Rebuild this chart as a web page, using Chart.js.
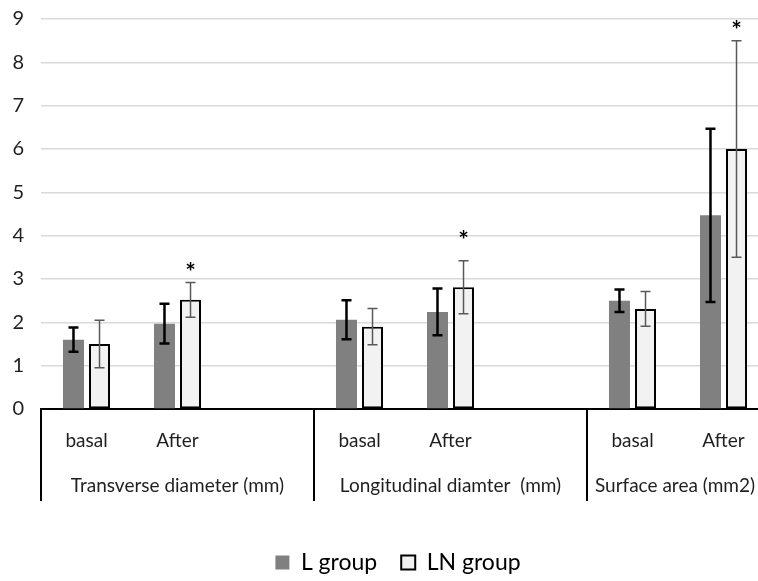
<!DOCTYPE html>
<html><head><meta charset="utf-8">
<script src="https://cdn.jsdelivr.net/npm/chart.js@4.4.1/dist/chart.umd.min.js"></script>
<style>html,body{margin:0;padding:0;background:#fff;overflow:hidden}#wrap{width:758px;height:581px;position:relative;overflow:hidden}</style>
</head><body><div id="wrap"><canvas id="c" width="860" height="581"></canvas></div>
<script>
const groups = ['Transverse diameter (mm)', 'Longitudinal diamter  (mm)', 'Surface area (mm2)'];
const categories = ['basal', 'After', '', 'basal', 'After', '', 'basal', 'After', ''];
const lGroup = [1.6, 1.97, null, 2.06, 2.24, null, 2.5, 4.47, null];
const lGroupErr = [0.28, 0.46, null, 0.45, 0.54, null, 0.26, 2.0, null];
const lnGroup = [1.5, 2.52, null, 1.9, 2.81, null, 2.31, 6.0, null];
const lnGroupErr = [0.55, 0.4, null, 0.42, 0.61, null, 0.4, 2.5, null];
const significance = ['', '*', '', '', '*', '', '', '*', ''];
const sigLevel = [null, 3.27, null, null, 4.02, null, null, 8.87, null];
const yTicks = [0, 1, 2, 3, 4, 5, 6, 7, 8, 9];

const FONT = 'Lato, "Open Sans", sans-serif';
const VISIBLE_W = 758;
Chart.defaults.font.family = FONT;

const extras = {
  id: 'extras',
  afterLayout(chart) {
    const lg = chart.legend;
    if (lg) { lg.left -= 32; lg.right -= 32; lg.top += 3; lg.bottom += 3; }
  },
  afterDatasetsDraw(chart) {
    const ctx = chart.ctx, y = chart.scales.y;
    chart.data.datasets.forEach((ds, di) => {
      const meta = chart.getDatasetMeta(di);
      meta.data.forEach((el, i) => {
        const v = ds.data[i], e = ds.errors[i];
        if (v == null || e == null) return;
        const x = el.x, yt = y.getPixelForValue(v + e), yb = y.getPixelForValue(v - e);
        ctx.save();
        ctx.strokeStyle = ds.errColor; ctx.lineWidth = ds.errWidth;
        ctx.beginPath();
        ctx.moveTo(x, yt); ctx.lineTo(x, yb);
        ctx.moveTo(x - 5, yt); ctx.lineTo(x + 5, yt);
        ctx.moveTo(x - 5, yb); ctx.lineTo(x + 5, yb);
        ctx.stroke();
        ctx.restore();
      });
    });
    const lnMeta = chart.getDatasetMeta(1);
    ctx.save();
    ctx.fillStyle = '#000';
    ctx.font = 'bold 25px ' + FONT;
    ctx.textAlign = 'center'; ctx.textBaseline = 'alphabetic';
    significance.forEach((s, i) => {
      if (!s) return;
      const el = lnMeta.data[i];
      ctx.fillText(s, el.x, y.getPixelForValue(sigLevel[i]) + 14);
    });
    ctx.restore();
  },
  afterDraw(chart) {
    const ctx = chart.ctx, xs = chart.scales.x, area = chart.chartArea;
    const cw = xs.getPixelForValue(1) - xs.getPixelForValue(0);
    ctx.save();
    ctx.strokeStyle = '#000'; ctx.lineWidth = 2;
    ctx.font = '19px ' + FONT; ctx.fillStyle = '#1f1f1f';
    ctx.textBaseline = 'alphabetic'; ctx.textAlign = 'center';
    groups.forEach((g, gi) => {
      const bx = xs.getPixelForValue(gi * 3) - cw / 2;
      ctx.beginPath(); ctx.moveTo(bx, area.bottom); ctx.lineTo(bx, area.bottom + 92); ctx.stroke();
      let cx = xs.getPixelForValue(gi * 3 + 1);
      const w = ctx.measureText(g).width;
      if (cx + w / 2 > VISIBLE_W - 3) cx = VISIBLE_W - 3 - w / 2;
      ctx.fillText(g, cx, area.bottom + 82.5);
    });
    ctx.restore();
  }
};

new Chart(document.getElementById('c'), {
  type: 'bar',
  data: {
    labels: categories,
    datasets: [
      { label: 'L group', data: lGroup, errors: lGroupErr, backgroundColor: '#808080', borderWidth: 0,
        errColor: '#000', errWidth: 2.5, categoryPercentage: 0.572, barPercentage: 0.807 },
      { label: 'LN group', data: lnGroup, errors: lnGroupErr, backgroundColor: '#f2f2f2', borderColor: '#000',
        borderWidth: 2, borderSkipped: false, errColor: '#595959', errWidth: 1.5, categoryPercentage: 0.572, barPercentage: 0.807 }
    ]
  },
  options: {
    responsive: false, animation: false, devicePixelRatio: 1,
    layout: { padding: { left: 0, right: 0, top: 19, bottom: 0 } },
    scales: {
      x: {
        grid: { display: false, drawTicks: false },
        border: { display: true, color: '#000', width: 2 },
        ticks: { autoSkip: false, maxRotation: 0, minRotation: 0, color: '#1f1f1f', font: { size: 19 }, padding: 20 },
        afterFit: s => { s.height = 115; }
      },
      y: {
        min: 0, max: 9,
        afterBuildTicks: s => { s.ticks = yTicks.map(v => ({ value: v })); },
        grid: { color: c => (c.tick && c.tick.value === 0) ? 'rgba(0,0,0,0)' : '#d9d9d9', lineWidth: 1.5, drawTicks: false },
        border: { display: false },
        ticks: { color: '#1f1f1f', font: { size: 20 }, padding: 17 },
        afterFit: s => { s.width = 41; s.paddingTop = 0; s.paddingBottom = 0; }
      }
    },
    plugins: {
      legend: { position: 'bottom', labels: { boxWidth: 14, boxHeight: 14, padding: 24, color: '#000', font: { size: 23 } } },
      tooltip: { enabled: false }
    }
  },
  plugins: [extras]
});
</script></body></html>
